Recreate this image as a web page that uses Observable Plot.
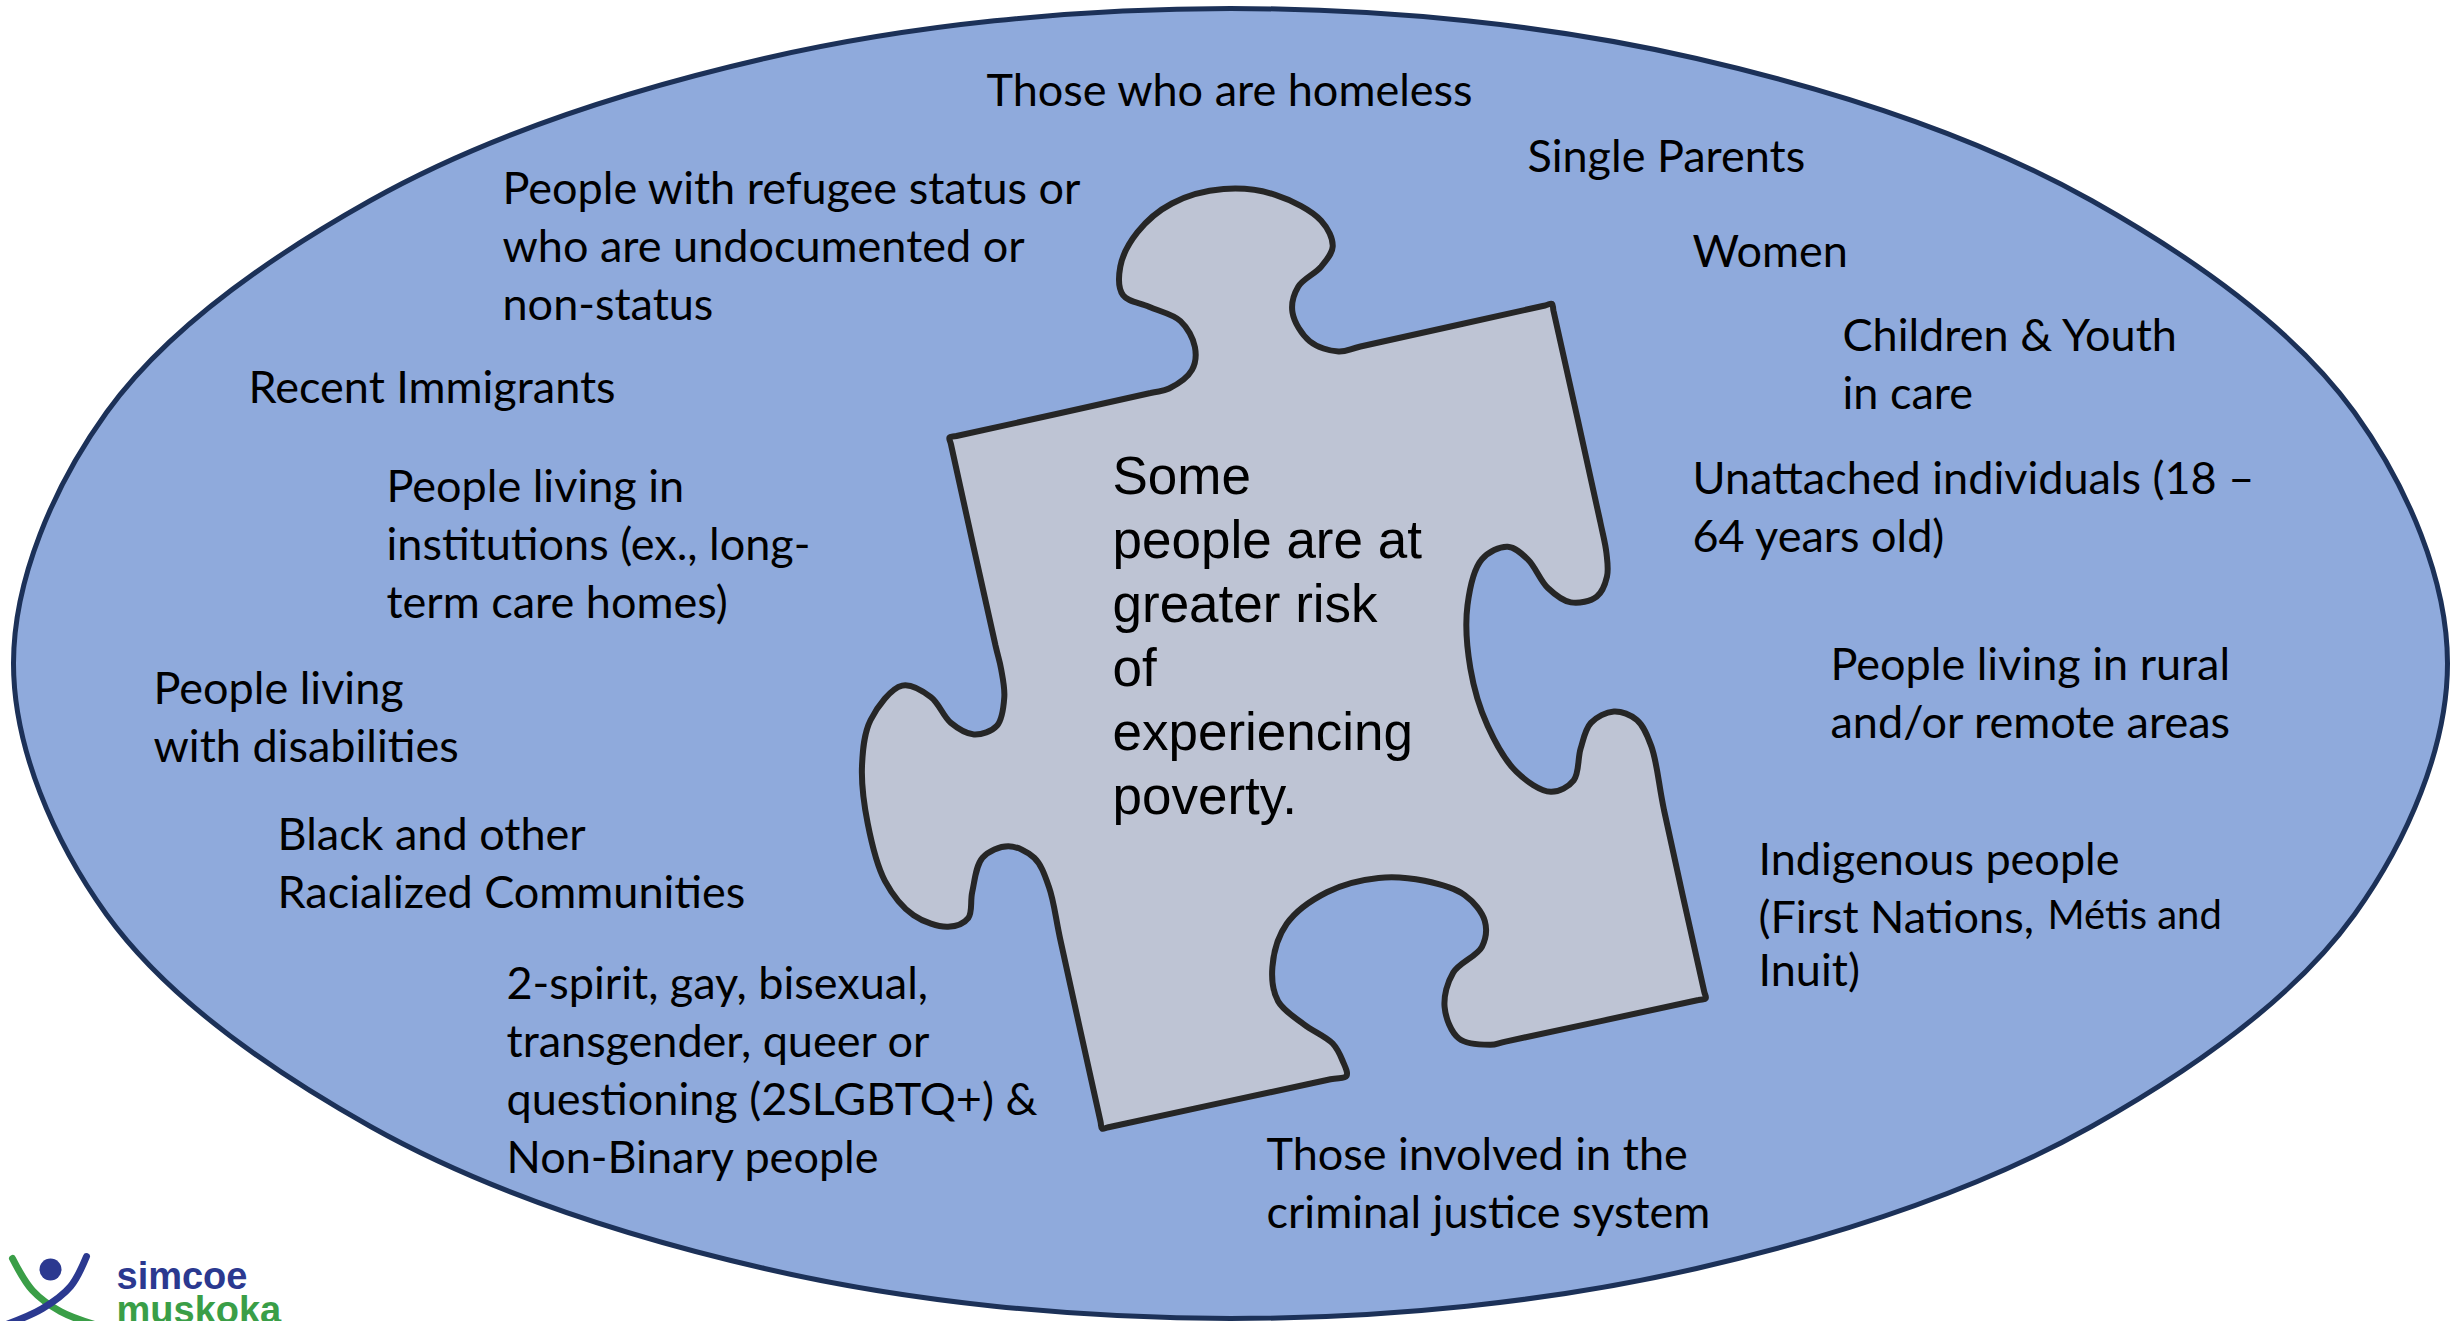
<!DOCTYPE html>
<html>
<head>
<meta charset="utf-8">
<script src="https://cdn.jsdelivr.net/npm/d3@7"></script>
<script src="https://cdn.jsdelivr.net/npm/@observablehq/plot@0.6"></script>
<style>
  html, body { margin: 0; padding: 0; background: #ffffff; overflow: hidden; }
  #chart svg { display: block; }
</style>
</head>
<body>
<div id="chart"></div>
<script>
// ---- Diagram values (diagram coordinate units, origin top-left) ----
const groupLabels = [
  "Those who are homeless",
  "Single Parents",
  "People with refugee status or\nwho are undocumented or\nnon-status",
  "Women",
  "Children & Youth\nin care",
  "Recent Immigrants",
  "People living in\ninstitutions (ex., long-\nterm care homes)",
  "Unattached individuals (18 –\n64 years old)",
  "People living\nwith disabilities",
  "People living in rural\nand/or remote areas",
  "Black and other\nRacialized Communities",
  "Indigenous people",
  "(First Nations,",
  "Inuit)",
  "2-spirit, gay, bisexual,\ntransgender, queer or\nquestioning (2SLGBTQ+) &\nNon-Binary people",
  "Those involved in the\ncriminal justice system"
];
const groupX = [986, 1527, 502, 1692, 1842, 248, 386, 1692, 153, 1830, 277, 1758, 1758, 1758, 506, 1266];
const groupY = [87, 153, 243, 248, 361, 384, 541, 504, 714, 690, 860, 856, 914, 967, 1067, 1180];

const smallLabel = ["Métis and"];
const smallX = [2037];
const smallY = [916];

const centerText = "Some\npeople are at\ngreater risk\nof\nexperiencing\npoverty.";
const centerX = [1112];
const centerY = [633];

// ellipse outline points
const ovalX = [2447, 2354, 2091, 1696, 1230, 764, 370, 106, 13, 106, 370, 764, 1230, 1696, 2091, 2354];
const ovalY = [663, 914, 1126, 1268, 1318, 1268, 1126, 914, 663, 412, 200, 58, 8, 58, 200, 412];

// puzzle piece outline points
const puzzleX = [949, 956, 1150, 1168.6, 1191.5, 1194.4, 1180, 1148.5, 1122.6, 1119.8, 1137, 1171.4, 1223.1, 1274.8, 1320.7, 1332.2, 1320.7, 1297.7, 1292, 1309.2, 1338, 1360, 1544.5,
  1551.5, 1553, 1599.7, 1606, 1606.5, 1596.2, 1570.4, 1547.4, 1527.3, 1507.2, 1481.4, 1467, 1469.9, 1487.1, 1515.8, 1550.3, 1573.2, 1580.1, 1590.4, 1613.4, 1636.4, 1650.7, 1663.6, 1703.7,
  1705.2, 1698, 1505, 1490, 1458.4, 1444.1, 1452.7, 1481.4, 1484.3, 1464.2, 1424, 1378.1, 1326.4, 1286.2, 1271.9, 1277.6, 1303.4, 1332.2, 1342, 1346, 1330, 1108,
  1101.6, 1100, 1060, 1048.3, 1033.7, 1007.8, 982, 971.7, 967.7, 947.6, 913.1, 884.4, 867.2, 861.5, 870.1, 901.7, 930.4, 950.4, 973.4, 996.4, 1003.8, 1000.5, 995, 950.5];
const puzzleY = [437, 435.5, 392.5, 388, 369.4, 346.5, 320.6, 306.3, 294.8, 266.1, 231.7, 203, 188.6, 194.3, 220.2, 246, 266.1, 286.2, 312, 340.7, 351, 346, 305,
  303.4, 310.4, 521, 553, 576, 596.1, 601.9, 587.5, 558.8, 546.2, 558.8, 604.7, 667.9, 725.3, 771.2, 791.3, 779.8, 748.2, 722.4, 711, 719.5, 745.4, 810, 991,
  997.9, 999.5, 1041.1, 1044.3, 1038, 1006.5, 972.1, 946.3, 920.5, 894.6, 880.3, 877.4, 891.7, 923.3, 966.4, 1000.8, 1023.8, 1043, 1060, 1075.4, 1078.8, 1126.7,
  1128.1, 1121, 940, 886, 857.3, 845.8, 857.3, 891.7, 917.6, 926.2, 914.7, 880.3, 822.9, 765.5, 719.5, 685.1, 696.6, 722.4, 733.9, 725.3, 696.6, 668, 645, 444];

// logo
const logoWords = ["simcoe", "muskoka"];
const logoWordX = [116, 116];
const logoWordY = [1276, 1310];
const logoHeadX = [50];
const logoHeadY = [1269];
const swooshGreenX = [12, 32, 60, 94];
const swooshGreenY = [1258, 1290, 1311, 1324];
const swooshBlueX = [86, 70, 42, 6];
const swooshBlueY = [1256, 1286, 1308, 1324];

// ---- build tables ----
const oval = ovalX.map((x, i) => ({x, y: ovalY[i]}));
const puzzle = puzzleX.map((x, i) => ({x, y: puzzleY[i]}));
const groups = groupLabels.map((t, i) => ({t, x: groupX[i], y: groupY[i]}));
const smalls = smallLabel.map((t, i) => ({t, x: smallX[i], y: smallY[i]}));
const center = [{t: centerText, x: centerX[0], y: centerY[0]}];
const words = logoWords.map((t, i) => ({t, x: logoWordX[i], y: logoWordY[i]}));
const head = [{x: logoHeadX[0], y: logoHeadY[0]}];
const green = swooshGreenX.map((x, i) => ({x, y: swooshGreenY[i]}));
const blue = swooshBlueX.map((x, i) => ({x, y: swooshBlueY[i]}));

const W = 2450, H = 1321;
const labelFont = "Lato, 'Open Sans', sans-serif";
const labelSize = 45;

const chart = Plot.plot({
  width: W,
  height: H,
  margin: 0,
  x: {domain: [0, W], range: [0, W], axis: null},
  y: {domain: [0, H], range: [0, H], axis: null},
  style: {background: "#ffffff"},
  marks: [
    Plot.line(oval, {x: "x", y: "y", curve: "catmull-rom-closed", fill: "#8FAADC", stroke: "#1C3158", strokeWidth: 5}),
    Plot.line(puzzle, {x: "x", y: "y", curve: "catmull-rom-closed", fill: "#BEC4D4", stroke: "#262626", strokeWidth: 6, strokeLinejoin: "miter"}),
    Plot.text(groups, {x: "x", y: "y", text: "t", textAnchor: "start", lineAnchor: "middle", fontFamily: labelFont, fontSize: labelSize, lineHeight: 57.8 / labelSize, fill: "#000000"}),
    Plot.text(smalls, {x: "x", y: "y", text: "t", textAnchor: "start", lineAnchor: "middle", fontFamily: labelFont, fontSize: 40, fill: "#000000", dx: 10}),
    Plot.text(center, {x: "x", y: "y", text: "t", textAnchor: "start", lineAnchor: "middle", fontFamily: "'Liberation Sans', Arial, sans-serif", fontSize: 53, lineHeight: 64 / 53, fill: "#000000"}),
    Plot.line(green, {x: "x", y: "y", curve: "catmull-rom", stroke: "#3A9E47", strokeWidth: 7}),
    Plot.line(blue, {x: "x", y: "y", curve: "catmull-rom", stroke: "#2B3990", strokeWidth: 7}),
    Plot.dot(head, {x: "x", y: "y", r: 11, fill: "#2B3990"}),
    Plot.text(words.slice(0, 1), {x: "x", y: "y", text: "t", textAnchor: "start", lineAnchor: "middle", fontFamily: "'Liberation Sans', Arial, sans-serif", fontWeight: "bold", fontSize: 38, fill: "#2B3990"}),
    Plot.text(words.slice(1), {x: "x", y: "y", text: "t", textAnchor: "start", lineAnchor: "middle", fontFamily: "'Liberation Sans', Arial, sans-serif", fontWeight: "bold", fontSize: 38, fill: "#3A9E47"})
  ]
});
document.getElementById("chart").appendChild(chart);
</script>
</body>
</html>
